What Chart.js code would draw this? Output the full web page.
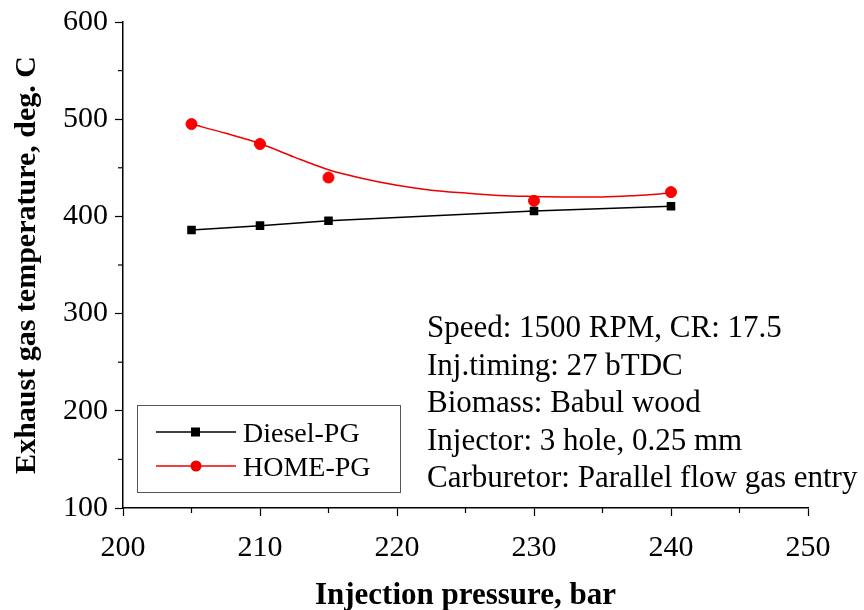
<!DOCTYPE html>
<html>
<head>
<meta charset="utf-8">
<script src="https://cdn.jsdelivr.net/npm/chart.js@4/dist/chart.umd.min.js"></script>
<style>
  body { margin: 0; background: #fff; }
  #wrap { width: 864px; height: 610px; }
</style>
</head>
<body>
<div id="wrap"><canvas id="chart" width="864" height="610"></canvas></div>
<script>
// Measured values
const pressures = [205, 210, 215, 230, 240];
const dieselPG = [386, 390.5, 395.5, 405.5, 410.5];
const homePG = [495, 474.5, 440, 416, 425];

// Smooth trend curve drawn through the HOME-PG points
const homeFitX = [205, 207.5, 210, 212.5, 215, 217.5, 220, 222.5, 225, 227.5, 230, 232.5, 235, 237.5, 240];
const homeFitY = [495, 485.5, 475, 461, 448, 439, 432, 427, 424, 421.5, 420.5, 420, 420, 421.5, 424];

const xTicks = [200, 210, 220, 230, 240, 250];
const yTicks = [100, 200, 300, 400, 500, 600];

const notes = [
  'Speed: 1500 RPM, CR: 17.5',
  'Inj.timing: 27 bTDC',
  'Biomass: Babul wood',
  'Injector: 3 hole, 0.25 mm',
  'Carburetor: Parallel flow gas entry'
];

const serif = '"Liberation Serif", "Times New Roman", serif';

const toXY = (xs, ys) => xs.map((x, i) => ({ x: x, y: ys[i] }));

// minor ticks, annotation text and legend box
const extras = {
  id: 'extras',
  afterDraw(chart) {
    const ctx = chart.ctx;
    const xs = chart.scales.x;
    const ys = chart.scales.y;
    ctx.save();
    ctx.strokeStyle = '#000';
    ctx.lineWidth = 1.2;
    // minor ticks
    for (let v = 205; v < 250; v += 10) {
      const px = xs.getPixelForValue(v);
      ctx.beginPath();
      ctx.moveTo(px, xs.top);
      ctx.lineTo(px, xs.top + 5);
      ctx.stroke();
    }
    for (let v = 150; v < 600; v += 100) {
      const py = ys.getPixelForValue(v);
      ctx.beginPath();
      ctx.moveTo(ys.right, py);
      ctx.lineTo(ys.right - 5, py);
      ctx.stroke();
    }

    // notes
    ctx.fillStyle = '#000';
    ctx.font = '31px ' + serif;
    ctx.textAlign = 'left';
    ctx.textBaseline = 'alphabetic';
    notes.forEach((t, i) => ctx.fillText(t, 427, 337 + i * 37.5));

    // legend
    ctx.strokeStyle = '#555';
    ctx.lineWidth = 1;
    ctx.strokeRect(137.5, 405.5, 263, 87);
    const items = [
      { label: 'Diesel-PG', color: '#000', style: 'rect', y: 432 },
      { label: 'HOME-PG', color: '#e00', style: 'circle', y: 466 }
    ];
    items.forEach(it => {
      ctx.strokeStyle = it.color;
      ctx.lineWidth = 1.5;
      ctx.beginPath();
      ctx.moveTo(156, it.y);
      ctx.lineTo(236, it.y);
      ctx.stroke();
      ctx.fillStyle = it.color;
      if (it.style === 'rect') {
        ctx.fillRect(191, it.y - 4.5, 9, 9);
      } else {
        ctx.beginPath();
        ctx.arc(196, it.y, 5.5, 0, Math.PI * 2);
        ctx.fill();
      }
      ctx.fillStyle = '#000';
      ctx.font = '28px ' + serif;
      ctx.fillText(it.label, 243, it.y + 10);
    });
    ctx.restore();
  }
};

new Chart(document.getElementById('chart'), {
  type: 'line',
  data: {
    datasets: [
      {
        label: 'Diesel-PG',
        data: toXY(pressures, dieselPG),
        borderColor: '#000',
        backgroundColor: '#000',
        borderWidth: 1.5,
        pointStyle: 'rect',
        pointRadius: 5,
        tension: 0
      },
      {
        label: 'HOME-PG trend',
        data: toXY(homeFitX, homeFitY),
        borderColor: '#e00',
        borderWidth: 1.5,
        pointRadius: 0,
        cubicInterpolationMode: 'monotone'
      },
      {
        label: 'HOME-PG',
        data: toXY(pressures, homePG),
        showLine: false,
        backgroundColor: '#f00',
        borderColor: '#f00',
        pointStyle: 'circle',
        pointRadius: 5.5
      }
    ]
  },
  options: {
    responsive: false,
    animation: false,
    layout: { padding: { top: 22, right: 56, left: 0, bottom: 0 } },
    plugins: {
      legend: { display: false },
      tooltip: { enabled: false }
    },
    scales: {
      x: {
        type: 'linear',
        min: 200,
        max: 250,
        afterBuildTicks: s => { s.ticks = xTicks.map(v => ({ value: v })); },
        afterFit: s => { s.height = 102; s.paddingLeft = 0; s.paddingRight = 0; },
        border: { color: '#000', width: 1.5 },
        grid: { drawOnChartArea: false, color: '#000', tickLength: 8, tickWidth: 1.2 },
        ticks: {
          color: '#000',
          font: { family: serif, size: 30 },
          padding: 14
        },
        title: {
          display: true,
          text: 'Injection pressure, bar',
          color: '#000',
          font: { family: serif, size: 31, weight: 'bold' },
          padding: { top: 0, bottom: -5 }
        }
      },
      y: {
        min: 100,
        max: 600,
        afterBuildTicks: s => { s.ticks = yTicks.map(v => ({ value: v })); },
        afterFit: s => { s.width = 123; s.paddingTop = 0; s.paddingBottom = 0; },
        border: { color: '#000', width: 1.5 },
        grid: { drawOnChartArea: false, color: '#000', tickLength: 8, tickWidth: 1.2 },
        ticks: {
          color: '#000',
          font: { family: serif, size: 30 },
          padding: 7
        },
        title: {
          display: true,
          text: 'Exhaust gas temperature, deg. C',
          color: '#000',
          font: { family: serif, size: 30, weight: 'bold' },
          padding: { top: 9, bottom: 0 }
        }
      }
    }
  },
  plugins: [extras]
});
</script>
</body>
</html>
